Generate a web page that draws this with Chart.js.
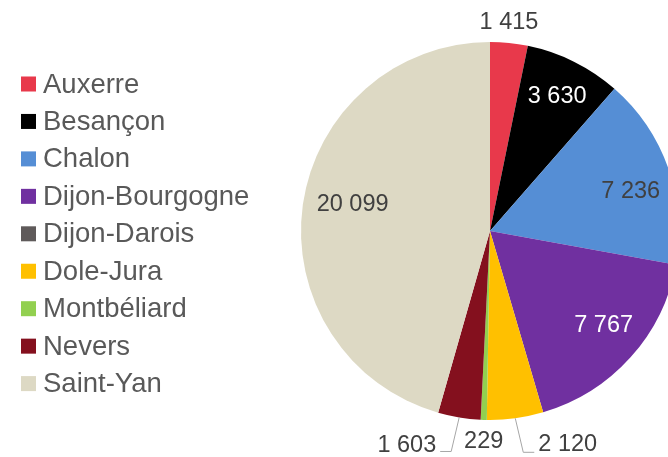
<!DOCTYPE html>
<html>
<head>
<meta charset="utf-8">
<script src="https://cdn.jsdelivr.net/npm/chart.js@4"></script>
<style>
  html, body { margin: 0; padding: 0; background: #fff; overflow: hidden; }
  #camembert { display: block; }
</style>
</head>
<body>
<canvas id="camembert" width="700" height="457"></canvas>
<script>
// données du graphique
const aeroports = ['Auxerre', 'Besançon', 'Chalon', 'Dijon-Bourgogne', 'Dijon-Darois',
  'Dole-Jura', 'Montbéliard', 'Nevers', 'Saint-Yan']
const passagers = [1415, 3630, 7236, 7767, 0, 2120, 229, 1603, 20099]

// couleurs des parts
const couleurs = ['#E8394B', '#000000', '#558ED5', '#7030A0', '#5F5A5A',
  '#FFC000', '#92D050', '#84101E', '#DDD9C4']

// placement des étiquettes (style seulement)
const etiquettes = [
  { mode: 'dessus', dy: -20 },
  { mode: 'dedans', r: 0.8, dx: 0, dy: 1, couleur: '#ffffff' },
  { mode: 'dedans', r: 0.8, dx: -2, dy: 10, couleur: '#404040' },
  { mode: 'dedans', r: 0.78, dx: 4, dy: -4, couleur: '#ffffff' },
  null,
  { mode: 'trait', sens: 1 },
  { mode: 'dessous', dy: 22 },
  { mode: 'trait', sens: -1 },
  { mode: 'dedans', r: 0.75, dx: 3, dy: -7, couleur: '#404040' }
]

function formater(v) {
  return String(v).replace(/\B(?=(\d{3})+(?!\d))/g, ' ')
}

// étiquettes de valeurs
const pluginEtiquettes = {
  id: 'etiquettes',
  afterDatasetsDraw(chart) {
    const ctx = chart.ctx
    const meta = chart.getDatasetMeta(0)
    ctx.save()
    ctx.font = '23.5px "Liberation Sans", Arial, sans-serif'
    ctx.textBaseline = 'middle'
    meta.data.forEach((arc, i) => {
      const v = passagers[i]
      const st = etiquettes[i]
      if (!v || !st) return
      const p = arc.getProps(['x', 'y', 'startAngle', 'endAngle', 'outerRadius'], true)
      const mid = (p.startAngle + p.endAngle) / 2
      const bx = p.x + p.outerRadius * Math.cos(mid)
      const by = p.y + p.outerRadius * Math.sin(mid)
      const texte = formater(v)
      if (st.mode === 'dedans') {
        ctx.fillStyle = st.couleur
        ctx.textAlign = 'center'
        ctx.fillText(texte,
          p.x + p.outerRadius * st.r * Math.cos(mid) + st.dx,
          p.y + p.outerRadius * st.r * Math.sin(mid) + st.dy)
      } else if (st.mode === 'dessus' || st.mode === 'dessous') {
        ctx.fillStyle = '#404040'
        ctx.textAlign = 'center'
        ctx.fillText(texte, bx, by + st.dy)
      } else if (st.mode === 'trait') {
        const s = st.sens
        ctx.strokeStyle = '#A6A6A6'
        ctx.lineWidth = 1
        ctx.beginPath()
        ctx.moveTo(bx, by)
        ctx.lineTo(bx + s * 8, by + 34)
        ctx.lineTo(bx + s * 19, by + 34)
        ctx.stroke()
        ctx.fillStyle = '#404040'
        ctx.textAlign = s > 0 ? 'left' : 'right'
        ctx.fillText(texte, bx + s * 23, by + (s > 0 ? 26 : 28))
      }
    })
    ctx.restore()
  }
}

// légende à gauche
const pluginLegende = {
  id: 'legendeGauche',
  afterDraw(chart) {
    const ctx = chart.ctx
    ctx.save()
    ctx.font = '27.5px "Liberation Sans", Arial, sans-serif'
    ctx.textBaseline = 'middle'
    ctx.textAlign = 'left'
    aeroports.forEach((nom, i) => {
      const y = 84 + i * 37.45
      ctx.fillStyle = couleurs[i]
      ctx.fillRect(21, y - 7.5, 15, 15)
      ctx.fillStyle = '#595959'
      ctx.fillText(nom, 43, y + 1)
    })
    ctx.restore()
  }
}

const graphique = new Chart(document.getElementById('camembert'), {
  type: 'pie',
  data: {
    labels: aeroports,
    datasets: [{
      data: passagers,
      backgroundColor: couleurs,
      borderWidth: 0
    }]
  },
  options: {
    responsive: false,
    animation: false,
    layout: { padding: { left: 301, right: 21, top: 42, bottom: 37 } },
    plugins: {
      legend: { display: false },
      tooltip: { enabled: false }
    }
  },
  plugins: [pluginEtiquettes, pluginLegende]
})
</script>
</body>
</html>
